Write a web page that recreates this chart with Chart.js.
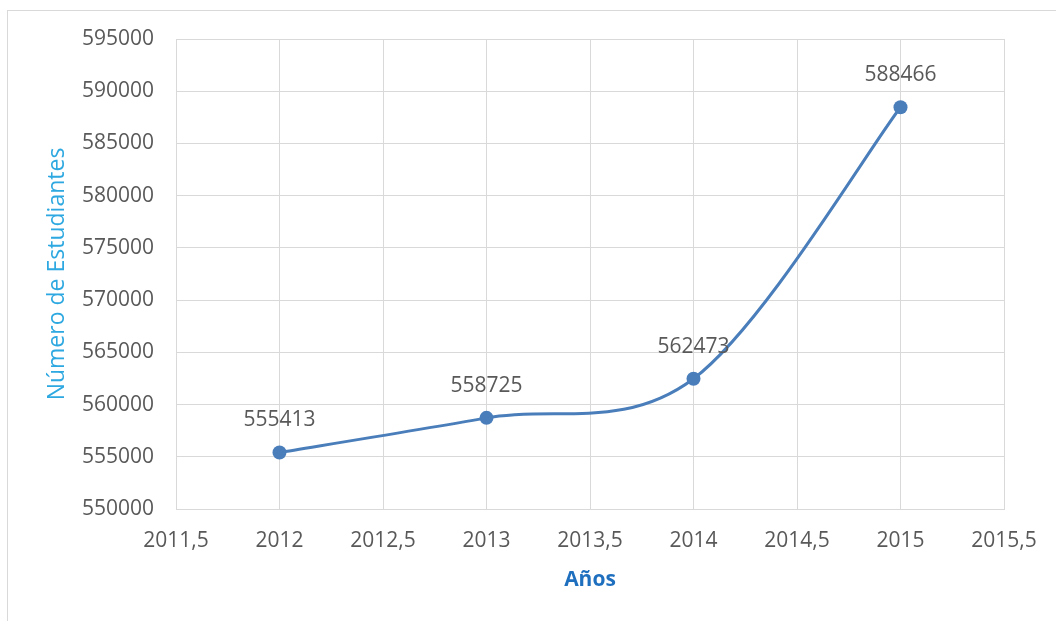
<!DOCTYPE html>
<html>
<head>
<meta charset="utf-8">
<script src="https://cdn.jsdelivr.net/npm/chart.js@4/dist/chart.umd.min.js"></script>
<style>
  html, body { margin: 0; padding: 0; background: #fff; overflow: hidden; }
  #wrap { position: relative; width: 1056px; height: 621px; overflow: hidden; }
  #frame { position: absolute; left: 7px; top: 10px; width: 1200px; height: 800px; border: 1px solid #d9d9d9; box-sizing: border-box; }
  canvas { position: absolute; left: 0; top: 0; }
</style>
</head>
<body>
<div id="wrap">
  <div id="frame"></div>
  <canvas id="c" width="1056" height="621"></canvas>
</div>
<script>
const years = [2012, 2013, 2014, 2015];
const students = [555413, 558725, 562473, 588466];
const xTitle = 'Años';
const yTitle = 'Número de Estudiantes';
const xMin = 2011.5, xMax = 2015.5, xStep = 0.5;
const yMin = 550000, yMax = 595000, yStep = 5000;

const FONT = '"Open Sans", "Noto Sans", sans-serif';
const LINE = '#4a7ebb';
const GRID = '#d9d9d9';
const TXT = '#595959';

// Excel-like smoothing (Catmull-Rom, 1/6 control handles)
const excelSmooth = {
  id: 'excelSmooth',
  beforeDatasetsDraw(chart) {
    const meta = chart.getDatasetMeta(0);
    const line = meta.dataset;
    line.updateControlPoints(chart.chartArea, 'x');
    const p = meta.data;
    const n = p.length;
    for (let i = 0; i < n; i++) {
      const prev = p[Math.max(0, i - 1)];
      const next = p[Math.min(n - 1, i + 1)];
      const dx = (next.x - prev.x) / 6, dy = (next.y - prev.y) / 6;
      p[i].cp1x = p[i].x - dx; p[i].cp1y = p[i].y - dy;
      p[i].cp2x = p[i].x + dx; p[i].cp2y = p[i].y + dy;
    }
    line._path = undefined;
  }
};

const dataLabels = {
  id: 'dataLabels',
  afterDatasetsDraw(chart) {
    const ctx = chart.ctx;
    const meta = chart.getDatasetMeta(0);
    ctx.save();
    ctx.font = '21px ' + FONT;
    ctx.fillStyle = TXT;
    ctx.textAlign = 'center';
    ctx.textBaseline = 'middle';
    meta.data.forEach((pt, i) => {
      ctx.fillText(String(students[i]), pt.x, pt.y - 32);
    });
    ctx.restore();
  }
};

new Chart(document.getElementById('c'), {
  type: 'line',
  data: {
    datasets: [{
      data: years.map((y, i) => ({ x: y, y: students[i] })),
      borderColor: LINE,
      backgroundColor: LINE,
      borderWidth: 3,
      pointRadius: 7,
      pointBackgroundColor: LINE,
      pointBorderColor: LINE,
      pointBorderWidth: 0,
      tension: 0.33,
      fill: false
    }]
  },
  options: {
    responsive: false,
    animation: false,
    events: [],
    layout: { padding: { left: 0, top: 39, right: 52, bottom: 0 } },
    plugins: { legend: { display: false }, tooltip: { enabled: false }, title: { display: false } },
    scales: {
      x: {
        type: 'linear',
        min: xMin, max: xMax,
        grid: { color: GRID, lineWidth: 1, drawTicks: false },
        border: { color: GRID, width: 1 },
        ticks: {
          stepSize: xStep,
          color: TXT,
          font: { family: FONT, size: 21, lineHeight: 1.2 },
          padding: 19,
          maxRotation: 0,
          autoSkip: false,
          callback: v => String(v).replace('.', ',')
        },
        title: {
          display: true, text: xTitle, color: '#1f6fbf',
          font: { family: FONT, size: 21, weight: 'bold', lineHeight: 1.2 },
          padding: { top: 0, bottom: 28 }
        },
        afterFit: s => { s.height = 112; }
      },
      y: {
        min: yMin, max: yMax,
        grid: { color: GRID, lineWidth: 1, drawTicks: false },
        border: { color: GRID, width: 1 },
        ticks: {
          stepSize: yStep,
          color: TXT,
          font: { family: FONT, size: 21, lineHeight: 1.2 },
          padding: 22,
          callback: v => String(v)
        },
        title: {
          display: true, text: yTitle, color: '#2ea8e0',
          font: { family: FONT, size: 23, lineHeight: 1.2 },
          padding: { top: 44, bottom: 0 }
        },
        afterFit: s => { s.width = 176; }
      }
    }
  },
  plugins: [excelSmooth, dataLabels]
});
</script>
</body>
</html>
